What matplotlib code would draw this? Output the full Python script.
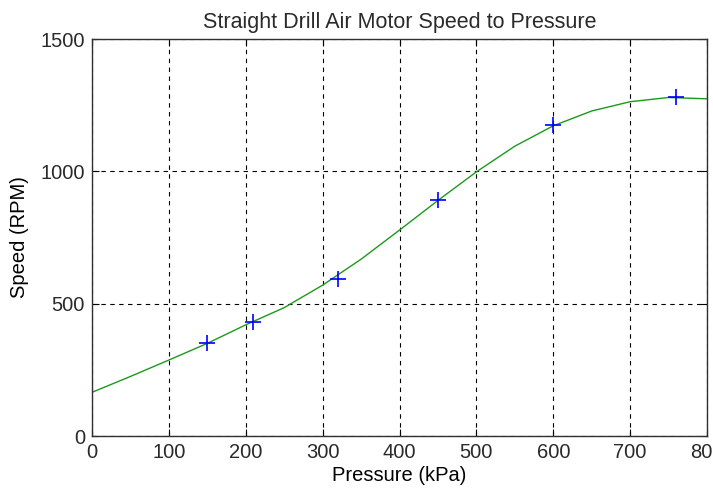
import numpy as np
import matplotlib
matplotlib.use('Agg')
import matplotlib.pyplot as plt

# measured points
pressure = [150, 210, 320, 450, 600, 760]
speed = [350, 430, 593, 892, 1175, 1280]

# fitted curve
curve_p = [0, 50, 100, 150, 200, 250, 300, 350, 400, 450, 500, 550, 600, 650, 700, 750, 800]
curve_s = [165, 225, 287, 350, 420, 485, 570, 668, 778, 890, 998, 1095, 1172, 1228, 1263, 1279, 1274]

x_ticks = [0, 100, 200, 300, 400, 500, 600, 700, 800]
y_ticks = [0, 500, 1000, 1500]

plt.rcParams['font.family'] = ['Liberation Sans', 'DejaVu Sans']
plt.rcParams['text.color'] = '#2a2a2a'
plt.rcParams['xtick.labelcolor'] = '#2a2a2a'
plt.rcParams['ytick.labelcolor'] = '#2a2a2a'
fs = 14.5

fig = plt.figure(figsize=(7.13, 4.95), dpi=100)
ax = fig.add_axes([92 / 713, 1 - 436 / 495, (707 - 92) / 713, (436 - 39) / 495])

ax.plot(curve_p, curve_s, color='#1a9a1a', linewidth=1)
ax.plot(pressure, speed, linestyle='none', marker='+', markersize=11,
        markeredgewidth=1.2, color='#0000ff')

ax.set_xlim(0, 800)
ax.set_ylim(0, 1500)
ax.set_xticks(x_ticks)
ax.set_yticks(y_ticks)
ax.grid(True, color='black', linestyle=(0, (4, 4)), linewidth=0.8)
ax.tick_params(direction='in', top=True, right=True, length=5, labelsize=fs, pad=5)
for s in ax.spines.values():
    s.set_color('#303030')
    s.set_linewidth(1)

ax.set_title('Straight Drill Air Motor Speed to Pressure', fontsize=15.5, pad=8)
ax.set_xlabel('Pressure (kPa)', fontsize=fs, labelpad=3)
ax.set_ylabel('Speed (RPM)', fontsize=fs, labelpad=8)

fig.savefig('out.png', dpi=100)
